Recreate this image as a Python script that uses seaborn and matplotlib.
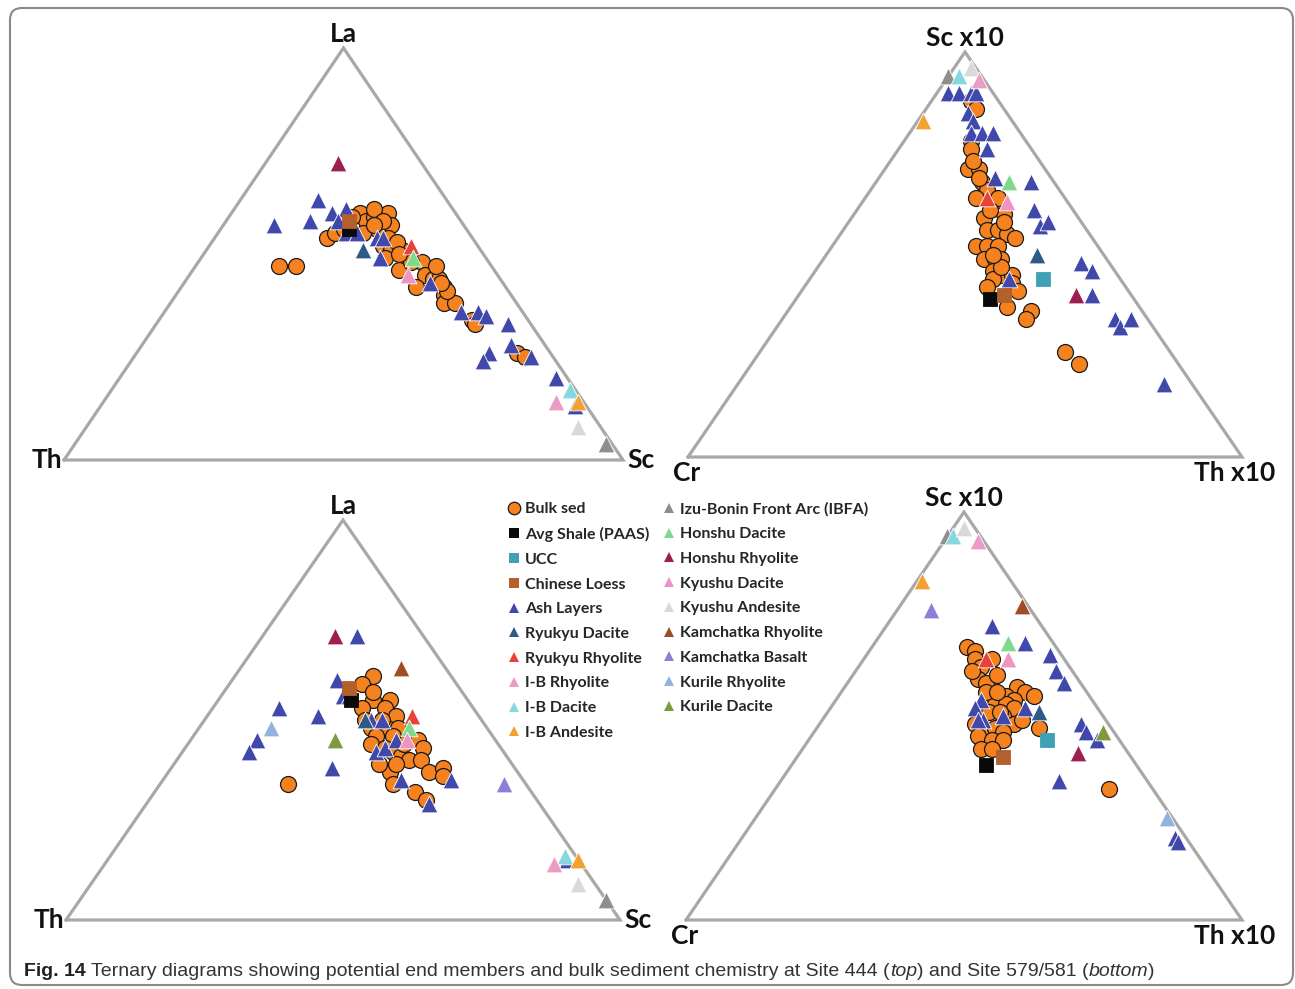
import matplotlib
matplotlib.use("Agg")
import matplotlib.pyplot as plt
from matplotlib.lines import Line2D
from matplotlib.patches import FancyBboxPatch
from matplotlib.transforms import IdentityTransform
import seaborn as sns
import numpy as np

sns.set_theme(style="white")
plt.rcParams["font.family"] = ["Lato", "DejaVu Sans"]

# ---------------------------------------------------------------------------
# Ternary compositions (fractions of the plotted apex and right-hand corner;
# the left-hand corner is the remainder).
# Site 444: La-Th-Sc stored as (La, Sc); Sc*10-Cr-Th*10 stored as (Sc, Th)
# ---------------------------------------------------------------------------
site444_la_sc_bulk = [
    (.47, .15), (.47, .18), (.54, .20), (.55, .21), (.60, .23), (.58, .25), (.59, .26),
    (.60, .28), (.57, .30), (.56, .28), (.55, .26), (.54, .31), (.52, .31), (.51, .33),
    (.51, .35), (.49, .33), (.49, .37), (.48, .40), (.46, .37), (.45, .42), (.44, .44),
    (.44, .45), (.42, .42), (.42, .47), (.40, .48), (.38, .49), (.38, .51), (.34, .56),
    (.26, .68), (.25, .70), (.56, .22), (.61, .25), (.58, .28), (.53, .33), (.48, .38),
    (.47, .43), (.41, .48), (.33, .57), (.59, .22), (.57, .27), (.50, .35), (.43, .46),
]
site444_la_sc_members = {
    "Ash Layers": [(.57, .09), (.63, .14), (.58, .15), (.60, .18), (.61, .20), (.58, .20),
                   (.55, .23), (.55, .25), (.49, .32), (.54, .29), (.54, .30), (.43, .44),
                   (.36, .53), (.36, .56), (.35, .58), (.33, .63), (.28, .66), (.26, .63),
                   (.24, .63), (.25, .71), (.20, .78), (.13, .85)],
    "Ryukyu Dacite": [(.51, .28)],
    "Avg Shale (PAAS)": [(.56, .23)],
    "Chinese Loess": [(.58, .22)],
    "Ryukyu Rhyolite": [(.52, .36)],
    "Honshu Dacite": [(.49, .38)],
    "Kyushu Dacite": [(.45, .39)],
    "Honshu Rhyolite": [(.72, .13)],
    "I-B Dacite": [(.17, .82)],
    "I-B Rhyolite": [(.14, .81)],
    "I-B Andesite": [(.14, .85)],
    "Kyushu Andesite": [(.08, .88)],
    "Izu-Bonin Front Arc (IBFA)": [(.04, .95)],
}

site444_sc_th_bulk = [
    (.88, .07), (.86, .09), (.78, .12), (.76, .13), (.71, .15), (.71, .17), (.68, .19),
    (.66, .21), (.64, .20), (.63, .24), (.64, .24), (.59, .24), (.60, .27), (.56, .26),
    (.56, .28), (.55, .30), (.54, .32), (.52, .26), (.52, .28), (.52, .30), (.49, .29),
    (.49, .31), (.49, .32), (.46, .32), (.45, .34), (.45, .36), (.44, .33), (.43, .37),
    (.42, .33), (.41, .39), (.37, .39), (.36, .44), (.34, .44), (.26, .55), (.23, .59),
    (.73, .15), (.61, .24), (.47, .33), (.69, .18), (.58, .28), (.50, .30),
]
site444_sc_th_members = {
    "Ash Layers": [(.90, .02), (.90, .04), (.90, .06), (.90, .07), (.85, .08), (.83, .10),
                   (.80, .11), (.80, .13), (.80, .15), (.76, .16), (.69, .21), (.68, .28),
                   (.61, .32), (.57, .35), (.58, .36), (.48, .47), (.46, .50), (.40, .53),
                   (.44, .36), (.34, .60), (.32, .62), (.34, .63), (.18, .77)],
    "Ryukyu Dacite": [(.50, .38)],
    "Avg Shale (PAAS)": [(.39, .35)],
    "UCC": [(.44, .42)],
    "Chinese Loess": [(.40, .37)],
    "Ryukyu Rhyolite": [(.64, .22)],
    "Honshu Dacite": [(.68, .24)],
    "Kyushu Dacite": [(.63, .26)],
    "Honshu Rhyolite": [(.40, .50)],
    "Izu-Bonin Front Arc (IBFA)": [(.94, .00)],
    "I-B Dacite": [(.94, .02)],
    "Kyushu Andesite": [(.96, .03)],
    "I-B Rhyolite": [(.93, .06)],
    "I-B Andesite": [(.83, .01)],
}

# Site 579/581
site579_la_sc_bulk = [
    (.61, .25), (.59, .24), (.55, .28), (.55, .31), (.53, .27), (.53, .31), (.51, .34),
    (.48, .31), (.48, .34), (.48, .36), (.46, .33), (.46, .36), (.44, .33), (.43, .36),
    (.42, .38), (.41, .40), (.45, .41), (.43, .43), (.40, .42), (.40, .44), (.37, .47),
    (.37, .40), (.38, .49), (.36, .50), (.34, .42), (.32, .47), (.30, .50), (.34, .23),
    (.39, .40), (.39, .37), (.50, .29), (.50, .32), (.57, .27), (.44, .39),
]
site579_la_sc_members = {
    "Ash Layers": [(.71, .17), (.60, .19), (.56, .22), (.56, .23), (.53, .12), (.51, .20),
                   (.45, .12), (.42, .12), (.38, .29), (.42, .35), (.43, .36), (.45, .37),
                   (.50, .30), (.50, .32), (.35, .43), (.35, .52), (.29, .51), (.15, .83)],
    "Ryukyu Dacite": [(.50, .29)],
    "Avg Shale (PAAS)": [(.55, .24)],
    "Chinese Loess": [(.58, .22)],
    "Ryukyu Rhyolite": [(.51, .37)],
    "Honshu Dacite": [(.48, .38)],
    "Kyushu Dacite": [(.45, .39)],
    "Honshu Rhyolite": [(.71, .13)],
    "Kamchatka Rhyolite": [(.63, .29)],
    "Kamchatka Basalt": [(.34, .62)],
    "Kurile Rhyolite": [(.48, .13)],
    "Kurile Dacite": [(.45, .26)],
    "I-B Dacite": [(.16, .82)],
    "I-B Rhyolite": [(.14, .81)],
    "I-B Andesite": [(.15, .85)],
    "Kyushu Andesite": [(.09, .88)],
    "Izu-Bonin Front Arc (IBFA)": [(.05, .95)],
}

site579_sc_th_bulk = [
    (.67, .17), (.66, .19), (.64, .20), (.62, .22), (.59, .23), (.58, .25), (.60, .26),
    (.64, .23), (.57, .31), (.56, .33), (.55, .35), (.55, .27), (.55, .30), (.54, .32),
    (.53, .29), (.53, .31), (.52, .33), (.51, .29), (.50, .32), (.48, .35), (.49, .36),
    (.48, .28), (.47, .30), (.47, .32), (.46, .34), (.45, .30), (.44, .33), (.44, .35),
    (.42, .32), (.42, .34), (.47, .40), (.32, .60), (.56, .26), (.56, .28), (.61, .21),
    (.51, .31),
]
site579_sc_th_members = {
    "Ash Layers": [(.72, .19), (.68, .27), (.65, .33), (.61, .36), (.58, .39), (.48, .47),
                   (.46, .49), (.44, .52), (.34, .50), (.54, .26), (.52, .26), (.49, .29),
                   (.50, .32), (.52, .35), (.49, .28), (.20, .78), (.19, .79)],
    "Ryukyu Dacite": [(.51, .38)],
    "Avg Shale (PAAS)": [(.38, .35)],
    "UCC": [(.44, .43)],
    "Chinese Loess": [(.40, .37)],
    "Ryukyu Rhyolite": [(.64, .22)],
    "Honshu Dacite": [(.68, .24)],
    "Kyushu Dacite": [(.64, .26)],
    "Honshu Rhyolite": [(.41, .50)],
    "Kamchatka Rhyolite": [(.77, .22)],
    "Kamchatka Basalt": [(.76, .06)],
    "Kurile Rhyolite": [(.25, .74)],
    "Kurile Dacite": [(.46, .52)],
    "Izu-Bonin Front Arc (IBFA)": [(.94, .00)],
    "I-B Dacite": [(.94, .01)],
    "Kyushu Andesite": [(.96, .02)],
    "I-B Rhyolite": [(.93, .06)],
    "I-B Andesite": [(.83, .01)],
}

# Legend order and symbol styles
legend_order = [
    "Bulk sed", "Avg Shale (PAAS)", "UCC", "Chinese Loess", "Ash Layers",
    "Ryukyu Dacite", "Ryukyu Rhyolite", "I-B Rhyolite", "I-B Dacite", "I-B Andesite",
    "Izu-Bonin Front Arc (IBFA)", "Honshu Dacite", "Honshu Rhyolite", "Kyushu Dacite",
    "Kyushu Andesite", "Kamchatka Rhyolite", "Kamchatka Basalt", "Kurile Rhyolite",
    "Kurile Dacite",
]
styles = {
    "Bulk sed": ("o", "#f5821f"),
    "Avg Shale (PAAS)": ("s", "#0a0a0a"),
    "UCC": ("s", "#3ea2b4"),
    "Chinese Loess": ("s", "#b2602c"),
    "Ash Layers": ("^", "#4148ab"),
    "Ryukyu Dacite": ("^", "#2d5a86"),
    "Ryukyu Rhyolite": ("^", "#e8423a"),
    "I-B Rhyolite": ("^", "#eb9cc4"),
    "I-B Dacite": ("^", "#86d8de"),
    "I-B Andesite": ("^", "#f3a131"),
    "Izu-Bonin Front Arc (IBFA)": ("^", "#8e8e8e"),
    "Honshu Dacite": ("^", "#7fd98c"),
    "Honshu Rhyolite": ("^", "#9b1f4f"),
    "Kyushu Dacite": ("^", "#f092c4"),
    "Kyushu Andesite": ("^", "#d9d9d9"),
    "Kamchatka Rhyolite": ("^", "#9e4d25"),
    "Kamchatka Basalt": ("^", "#8a80d8"),
    "Kurile Rhyolite": ("^", "#92b3de"),
    "Kurile Dacite": ("^", "#7d9a3c"),
}

W_PX, H_PX = 1295, 989
fig = plt.figure(figsize=(W_PX / 100, H_PX / 100), dpi=100)
fig.patch.set_facecolor("white")

LINE_GREY = "#a8a8a8"
LABEL_KW = dict(fontsize=19, fontweight="bold", color="#111111")


def to_xy(pairs):
    """Ternary (apex, right) fractions -> cartesian in a unit-height triangle."""
    arr = np.asarray(pairs, dtype=float)
    top, right = arr[:, 0], arr[:, 1]
    return right + top / 2.0, top


def panel(corners, bulk, members, labels):
    left_px, right_px, base_px, apex_px = corners
    ax = fig.add_axes([left_px / W_PX, 1 - base_px / H_PX,
                       (right_px - left_px) / W_PX, (base_px - apex_px) / H_PX])
    ax.set_xlim(0, 1)
    ax.set_ylim(0, 1)
    ax.set_axis_off()
    ax.plot([0, 1, 0.5, 0], [0, 0, 1, 0], color=LINE_GREY, lw=2.3,
            solid_joinstyle="miter", clip_on=False, zorder=1)

    bx, by = to_xy(bulk)
    sns.scatterplot(x=bx, y=by, marker="o", s=132, color=styles["Bulk sed"][1],
                    edgecolor="#1a1a1a", linewidth=0.9, ax=ax, legend=False,
                    clip_on=False, zorder=3)
    for name, pts in members.items():
        mk, col = styles[name]
        x, y = to_xy(pts)
        size = 110 if mk == "s" else 145
        edge = col if mk == "s" else "white"
        sns.scatterplot(x=x, y=y, marker=mk, s=size, color=col, edgecolor=edge,
                        linewidth=0.6, ax=ax, legend=False, clip_on=False, zorder=4)

    top_lbl, left_lbl, right_lbl, bottom_style = labels
    ax.annotate(top_lbl, (0.5, 1), xytext=(0, 2), textcoords="offset pixels",
                ha="center", va="bottom", annotation_clip=False, **LABEL_KW)
    if bottom_style:
        ax.annotate(left_lbl, (0, 0), xytext=(-1, -4), textcoords="offset pixels",
                    ha="center", va="top", annotation_clip=False, **LABEL_KW)
        ax.annotate(right_lbl, (1, 0), xytext=(-7, -4), textcoords="offset pixels",
                    ha="center", va="top", annotation_clip=False, **LABEL_KW)
    else:
        ax.annotate(left_lbl, (0, 0), xytext=(-2, 0), textcoords="offset pixels",
                    ha="right", va="center", annotation_clip=False, **LABEL_KW)
        ax.annotate(right_lbl, (1, 0), xytext=(4, 0), textcoords="offset pixels",
                    ha="left", va="center", annotation_clip=False, **LABEL_KW)
    return ax


panel((64, 623, 460, 48), site444_la_sc_bulk, site444_la_sc_members,
      ("La", "Th", "Sc", False))
panel((688, 1242, 457, 52), site444_sc_th_bulk, site444_sc_th_members,
      ("Sc x10", "Cr", "Th x10", True))
panel((66, 620, 920, 520), site579_la_sc_bulk, site579_la_sc_members,
      ("La", "Th", "Sc", False))
panel((686, 1242, 920, 512), site579_sc_th_bulk, site579_sc_th_members,
      ("Sc x10", "Cr", "Th x10", True))

# Shared legend
handles = []
for name in legend_order:
    mk, col = styles[name]
    if name == "Bulk sed":
        h = Line2D([], [], marker="o", linestyle="none", markersize=9,
                   markerfacecolor=col, markeredgecolor="#1a1a1a", markeredgewidth=0.9)
    else:
        h = Line2D([], [], marker=mk, linestyle="none", markersize=7 if mk == "s" else 7.5,
                   markerfacecolor=col, markeredgecolor=col, markeredgewidth=0)
    handles.append(h)
fig.legend(handles, legend_order, ncol=2, loc="upper left",
           bbox_to_anchor=(508 / W_PX, 1 - 502 / H_PX), frameon=False,
           prop=dict(family=["Lato", "DejaVu Sans"], weight="bold", size=11.5),
           handlelength=0.7, handletextpad=0.35, columnspacing=0.9,
           labelspacing=0.66, borderpad=0, borderaxespad=0)

# Caption built from styled runs
renderer = fig.canvas.get_renderer()
cap_family = ["Liberation Sans Narrow", "Liberation Sans", "DejaVu Sans"]
runs = [
    ("Fig. 14 ", dict(fontweight="bold", color="#222222")),
    ("Ternary diagrams showing potential end members and bulk sediment chemistry at Site 444 (",
     dict(color="#333333")),
    ("top", dict(style="italic", color="#333333")),
    (") and Site 579/581 (", dict(color="#333333")),
    ("bottom", dict(style="italic", color="#333333")),
    (")", dict(color="#333333")),
]
x = 24
y = H_PX - 971
for txt, kw in runs:
    t = fig.text(x, y, txt, transform=IdentityTransform(), fontsize=14,
                 family=cap_family, va="center", ha="left", **kw)
    x += t.get_window_extent(renderer).width

# Rounded figure frame
frame = FancyBboxPatch((10, 4), 1283, 977, boxstyle="round,pad=0,rounding_size=12",
                       transform=IdentityTransform(), facecolor="none",
                       edgecolor="#8a8a8a", linewidth=1.5)
fig.add_artist(frame)

fig.savefig("out.png", dpi=100)
